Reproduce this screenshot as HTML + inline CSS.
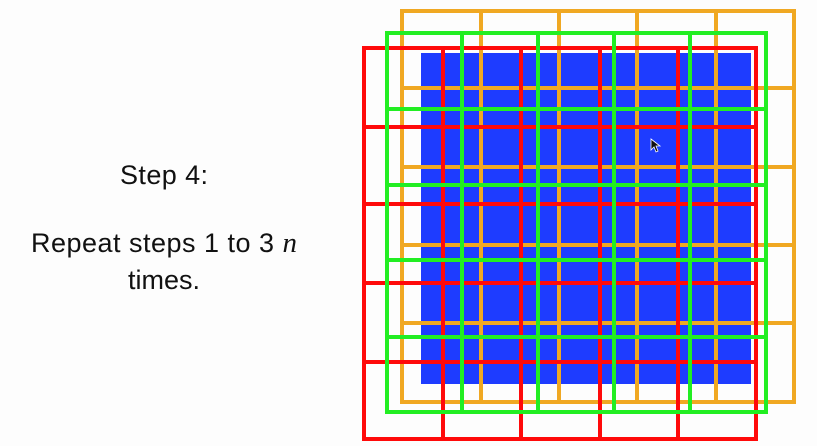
<!DOCTYPE html>
<html><head><meta charset="utf-8"><style>
html,body{margin:0;padding:0;background:#fdfdfd;width:817px;height:446px;overflow:hidden}
svg{display:block}
text{font-family:"Liberation Sans",sans-serif;font-size:27px;fill:#111}
</style></head><body>
<svg id="c" width="817" height="446">
<text x="164" y="184" text-anchor="middle" textLength="88">Step 4:</text>
<text x="31" y="252" textLength="266">Repeat steps 1 to 3 <tspan font-family="Liberation Serif, serif" font-style="italic" font-size="29">n</tspan></text>
<text x="164" y="289" text-anchor="middle">times.</text>
</svg>
<script>
const grids = [
  {name:'orange-grid', color:'#f0a822', xs:[402,481,559,637,716,794], ys:[11,88,167,245,323,402]},
  {name:'red-grid', color:'#ff0a0a', xs:[364,443,521,600,678,756], ys:[48,127,204,283,362,439]},
  {name:'green-grid', color:'#22ee22', xs:[387,462,538,614,690,766], ys:[33,109,185,260,337,412]}
];
const NS='http://www.w3.org/2000/svg';
const svg=document.getElementById('c');
const blue=document.createElementNS(NS,'rect');
blue.setAttribute('x',421);blue.setAttribute('y',53);blue.setAttribute('width',330);blue.setAttribute('height',331);blue.setAttribute('fill','#1e3cff');


svg.appendChild(blue);
grids.forEach(g=>{
  const grp=document.createElementNS(NS,'g');
  
  
  const x0=g.xs[0],x1=g.xs[g.xs.length-1],y0=g.ys[0],y1=g.ys[g.ys.length-1];
  g.xs.forEach(x=>{
    const l=document.createElementNS(NS,'line');
    l.setAttribute('x1',x);l.setAttribute('x2',x);l.setAttribute('y1',y0-2);l.setAttribute('y2',y1+2);
    l.setAttribute('stroke',g.color);l.setAttribute('stroke-width',4);
    
    
    grp.appendChild(l);
  });
  g.ys.forEach(y=>{
    const l=document.createElementNS(NS,'line');
    l.setAttribute('y1',y);l.setAttribute('y2',y);l.setAttribute('x1',x0-2);l.setAttribute('x2',x1+2);
    l.setAttribute('stroke',g.color);l.setAttribute('stroke-width',4);
    
    
    grp.appendChild(l);
  });
  svg.appendChild(grp);
});
const cur=document.createElementNS(NS,'path');
cur.setAttribute('d','M651 139 L651 150 L654 147 L656 152 L658 151 L656 146 L660 146 Z');
cur.setAttribute('fill','#111');cur.setAttribute('stroke','#fff');cur.setAttribute('stroke-width','0.8');


svg.appendChild(cur);
</script>
</body></html>
